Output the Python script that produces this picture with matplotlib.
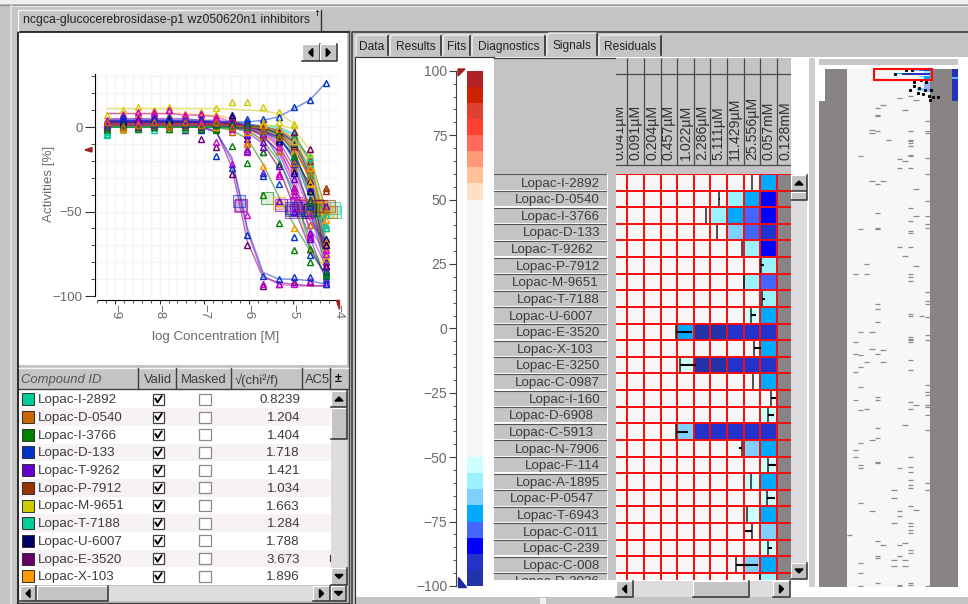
import matplotlib
matplotlib.use('Agg')
import matplotlib.pyplot as plt
import numpy as np
from matplotlib.colors import ListedColormap, BoundaryNorm, to_rgba
from matplotlib.patches import Rectangle, Polygon

plt.rcParams['font.family'] = ['Liberation Sans', 'DejaVu Sans']

W, H = 968, 604
GRAY = '#c5c3c5'
TXT = '#3c3c3c'

# dose response panel
log_conc = [-9.18, -8.83, -8.48, -8.13, -7.78, -7.43, -7.08, -6.73, -6.38, -6.03, -5.68, -5.33, -4.98, -4.63, -4.28]
curve_colors = ['#00cc99', '#cc6600', '#008000', '#0033cc', '#6600cc', '#993300', '#cccc00', '#00cc99',
                '#000066', '#660066', '#ff9900', '#cc00cc', '#0033cc', '#008000', '#0033cc', '#ff9900',
                '#cc00cc', '#6600cc', '#993300', '#cccc00', '#008000', '#0033cc', '#cc00cc', '#6600cc',
                '#cc6600', '#00cc99', '#000066', '#660066', '#ff9900', '#0033cc', '#cc00cc', '#6600cc',
                '#008000', '#cc6600']
fits = [
    [2, 2, 2, 2, 2, 2, 2, 2, 2, 1, 1, 0, -4, -20, -55],
    [1, 1, 1, 1, 1, 1, 1, 1, 1, 0, -1, -3, -10, -28, -62],
    [0, 0, 0, 0, 0, 0, 0, 0, -1, -1, -3, -7, -16, -36, -70],
    [3, 3, 3, 3, 3, 3, 3, 2, 1, 0, -2, -6, -18, -42, -75],
    [4, 4, 4, 4, 4, 4, 3, 3, 2, 1, -1, -4, -14, -38, -72],
    [2, 2, 2, 2, 2, 2, 2, 2, 2, 1, 0, -2, -7, -18, -48],
    [11, 11, 11, 11, 11, 11, 11, 11, 10.5, 10, 9.5, 8, 2, -35, -88],
    [1, 1, 1, 1, 1, 1, 1, 1, 1, 1, 0, -1, -5, -20, -60],
    [3, 3, 3, 3, 3, 3, 3, 2, 2, 1, -1, -3, -12, -30, -68],
    [2, 2, 2, 2, 2, 1, 0, -2, -24, -68, -89, -92, -93, -94, -94],
    [2, 2, 2, 2, 2, 2, 2, 2, 1, 1, -1, -4, -12, -32, -64],
    [1, 1, 1, 1, 1, 0, 0, -3, -20, -62, -88, -93, -94, -94, -94],
    [3, 3, 3, 3, 3, 3, 3, 3, 3, 3, 4, 6, 11, 16, 26],
    [1, 1, 1, 1, 1, 1, 1, 0, -2, -7, -22, -41, -58, -73, -87],
    [1, 1, 1, 1, 1, 1, 0, -3, -18, -60, -86, -90, -90, -91, -93],
    [8, 8, 8, 8, 8, 8, 7, 7, 5, 0, -9, -24, -46, -70, -84],
    [8, 8, 8, 8, 8, 7, 7, 6, 3, 0, -6, -14, -30, -62, -82],
    [4, 4, 4, 4, 4, 3, 3, 2, 0, -3, -10, -24, -48, -72, -88],
    [2, 2, 2, 2, 2, 2, 2, 2, 1, 0, -1, -3, -9, -24, -56],
    [1, 1, 1, 1, 1, 1, 1, 1, 1, 1, 1, 1, -1, -14, -52],
    [0, 0, 0, 0, 0, 0, 0, 0, 0, -2, -8, -20, -38, -70, -88],
    [3, 3, 3, 3, 3, 3, 3, 2, 1, -1, -4, -18, -42, -65, -90],
    [2, 2, 2, 2, 2, 2, 2, 2, 1, 0, -2, -10, -28, -50, -76],
    [5, 5, 5, 5, 5, 5, 4, 4, 3, 1, -2, -8, -24, -48, -74],
    [1, 1, 1, 1, 1, 1, 1, 1, 0, -1, -4, -12, -26, -46, -70],
    [0, 0, 0, 0, 0, 0, 0, 0, 0, 0, -1, -3, -8, -26, -66],
    [2, 2, 2, 2, 2, 2, 2, 1, 1, 0, -2, -6, -18, -34, -60],
    [3, 3, 3, 3, 3, 3, 3, 3, 2, 1, 0, -2, -9, -28, -78],
    [1, 1, 1, 1, 1, 1, 1, 1, 1, 0, 0, -2, -6, -22, -58],
    [4, 4, 4, 4, 4, 4, 4, 3, 3, 2, 0, -5, -20, -50, -82],
    [2, 2, 2, 2, 2, 2, 2, 2, 1, 0, -3, -11, -34, -60, -74],
    [1, 1, 1, 1, 1, 1, 1, 1, 0, -1, -5, -15, -36, -55, -68],
    [0, 0, 0, 0, 0, 0, 0, 0, 0, 0, -1, -4, -15, -40, -80],
    [2, 2, 2, 2, 2, 2, 2, 2, 1, 0, -1, -5, -13, -30, -54],
]
points = [
    [-3, -1, 1, -2, 1, 2, 0, 1, 2, 3, 0, -1, -5, -22, -52],
    [0, -1, 2, 1, 1, 0, 1, 2, 0, -1, -2, -4, -12, -26, -60],
    [-2, 1, 0, 2, -1, 1, 0, -2, 1, -2, -5, -9, -18, -38, -86],
    [1, 5, 3, 6, 5, 2, 3, 1, 0, 1, -3, -7, -20, -44, -78],
    [2, 3, 5, 4, 3, 5, 1, 4, 2, 0, -2, -6, -12, -36, -70],
    [0, 3, 2, 1, 2, 0, 3, 1, 4, 2, -1, -1, -6, -20, -36],
    [7, 10, 12, 10, 12, 8, 9, 11, 15, 15, 12, 9, 2, -34, -77],
    [-5, -1, 0, 1, 0, -1, 1, 2, 0, 1, 1, -2, -7, -18, -58],
    [2, 5, 4, 5, 3, 2, 4, 0, 6, 2, 0, -4, -10, -32, -66],
    [1, 0, 3, 0, 2, -2, -7, -12, -28, -70, -94, -93, -92, -92, -93],
    [3, 0, 1, 4, 2, 1, 5, 2, 4, 0, 3, -5, -14, -33, -71],
    [-1, 8, 7, 9, 10, 6, 8, -9, -22, -52, -93, -93, -93, -91, -92],
    [2, 4, 3, 4, 2, 4, 3, 2, 4, 5, 5, 6, 12, 16, 26],
    [0, -1, 1, 3, 0, 2, 1, -1, -11, -21, -40, -57, -73, -80, -86],
    [0, 1, 2, 0, 1, 1, -2, -17, -24, -64, -88, -90, -89, -89, -93],
    [3, 8, 8, 7, 7, 8, 6, 7, 4, -9, -23, -45, -60, -73, -84],
    [1, 7, 9, 8, 10, 7, 8, 6, 5, -13, -15, -28, -40, -65, -83],
    [3, 4, 5, 3, 5, 3, 4, 2, 1, -5, -27, -44, -50, -66, -82],
    [1, 2, 1, 3, 2, 0, 3, 1, 2, 1, 0, -4, -11, -25, -38],
    [3, 0, 2, 1, 0, 2, 1, 3, 1, 0, 2, 3, 1, -16, -78],
    [1, -1, 0, 1, -1, 2, 0, -1, 1, -3, -15, -22, -36, -72, -88],
    [2, 4, 3, 5, 4, 2, 3, 3, 0, -14, -29, -34, -65, -76, -90],
    [4, 3, 1, 2, 3, 1, 2, 5, 2, -15, -4, -29, -38, -52, -73],
    [3, 6, 4, 6, 5, 3, 5, 2, 0, -5, -12, -9, -26, -63, -80],
    [-1, 2, 0, 1, 0, 2, 1, 0, -3, -2, -6, -14, -24, -58, -68],
    [-4, 1, -1, 0, 1, -1, 0, 2, 1, -1, -3, -2, -9, -28, -60],
    [1, 3, 2, 1, 4, 3, 0, 3, 7, -1, -4, -8, -27, -38, -70],
    [2, 1, 4, 3, 2, 2, 4, 2, 3, 0, -1, -3, -3, -13, -82],
    [0, -1, 2, 1, 2, 0, 2, 0, 1, -3, 1, -1, -8, -24, -55],
    [1, 6, 3, 5, 6, 4, 5, 2, 2, 3, -2, -6, -22, -47, -85],
    [2, 1, 3, 1, 2, 1, 3, 4, -1, -1, -4, -12, -36, -64, -75],
    [0, 2, 0, 2, 1, 2, 0, 1, 0, -7, -9, -23, -31, -43, -47],
    [-1, 1, -1, 0, 2, 0, -1, 1, 1, 0, -2, -5, -17, -44, -87],
    [3, 0, 1, 3, 1, 3, 1, 3, 0, -10, -2, -6, -21, -29, -49],
]
ac50_x = [-4.10, -4.50, -4.75, -4.85, -4.70, -4.20, -4.55, -4.07, -4.65, -6.17, -4.60, -6.20, np.nan, -5.60,
          -6.22, -5.32, -4.95, -5.28, -4.38, -4.25, -5.04, -5.06, -4.85, -4.95, -4.80, -4.40, -4.62, -4.45,
          -4.32, -4.90, -5.00, -5.05, -4.55, -4.15]
ac50_y = [-48, -46, -50, -47, -49, -47, -48, -50, -50, -46, -47, -47, np.nan, -42,
          -44, -45, -45, -46, -47, -50, -49, -48, -47, -49, -46, -50, -49, -47,
          -48, -48, -46, -50, -49, -50]

# compound table
compound_ids = ['Lopac-I-2892', 'Lopac-D-0540', 'Lopac-I-3766', 'Lopac-D-133', 'Lopac-T-9262', 'Lopac-P-7912',
                'Lopac-M-9651', 'Lopac-T-7188', 'Lopac-U-6007', 'Lopac-E-3520', 'Lopac-X-103']
chi_values = ['0.8239', '1.204', '1.404', '1.718', '1.421', '1.034', '1.663', '1.284', '1.788', '3.673', '1.896']
swatch_colors = ['#00cc99', '#cc6600', '#008000', '#0033cc', '#6600cc', '#993300', '#cccc00', '#00cc99',
                 '#000066', '#660066', '#ff9900']

# signals heat map
conc_labels = ['0.041µM', '0.091µM', '0.204µM', '0.457µM', '1.022µM', '2.286µM', '5.111µM', '11.429µM',
               '25.556µM', '0.057mM', '0.128mM']
row_labels = compound_ids + ['Lopac-C-0987', 'Lopac-I-160', 'Lopac-D-6908', 'Lopac-C-5913', 'Lopac-N-7906',
                             'Lopac-F-114', 'Lopac-A-1895', 'Lopac-P-0547', 'Lopac-T-6943', 'Lopac-C-011',
                             'Lopac-C-239', 'Lopac-C-008', 'Lopac-D-3036']
row_labels[11:11] = ['Lopac-E-3250']
row_label_right = [600, 600, 600, 600, 594, 600, 599, 600, 594, 600, 594, 600, 600, 600, 594, 594, 600, 600, 600,
                   594, 600, 599, 600, 600, 600]
n = np.nan
heat = [
    [0, 0, 0, 0, 0, 0, 0, 0, 0, -70, n],
    [0, 0, 0, 0, 0, 0, 0, -60, -72, -85, n],
    [0, 0, 0, 0, 0, 0, -60, -72, -78, -85, n],
    [0, 0, 0, 0, 0, 0, 0, -65, -78, -90, n],
    [0, 0, 0, 0, 0, 0, 0, 0, -60, -85, n],
    [0, 0, 0, 0, 0, 0, 0, 0, 0, -60, n],
    [0, 0, 0, 0, 0, 0, 0, 0, -60, -78, n],
    [0, 0, 0, 0, 0, 0, 0, 0, 0, -60, n],
    [0, 0, 0, 0, 0, 0, 0, 0, -53, -72, n],
    [0, 0, 0, 0, -72, -96, -96, -90, -90, -90, n],
    [0, 0, 0, 0, 0, 0, 0, 0, 0, -72, n],
    [0, 0, 0, 0, -53, -96, -96, -90, -90, -90, n],
    [0, 0, 0, 0, 0, 0, 0, 0, 0, -72, n],
    [0, 0, 0, 0, 0, 0, 0, 0, 0, 0, n],
    [0, 0, 0, 0, 0, 0, 0, 0, 0, -53, n],
    [0, 0, 0, 0, -65, -90, -90, -90, -90, -90, n],
    [0, 0, 0, 0, 0, 0, 0, 0, -65, -72, n],
    [0, 0, 0, 0, 0, 0, 0, 0, 0, -53, n],
    [0, 0, 0, 0, 0, 0, 0, 0, -53, -72, n],
    [0, 0, 0, 0, 0, 0, 0, 0, 0, -53, n],
    [0, 0, 0, 0, 0, 0, 0, 0, -53, -72, n],
    [0, 0, 0, 0, 0, 0, 0, 0, 0, -65, n],
    [0, 0, 0, 0, 0, 0, 0, 0, 0, -53, n],
    [0, 0, 0, 0, 0, 0, 0, 0, -65, -72, n],
    [0, 0, 0, 0, 0, 0, 0, 0, 0, -60, n],
]
ac50_col = [8.52, 6.53, 5.72, 6.41, 7.92, 9.04, 8.04, 9.12, 8.44, 3.91, 8.64, 4.17, 8.56, 9.65, 9.45, 3.91, 7.92,
            9.45, 8.44, 9.39, 8.22, 8.52, 9.45, 7.52, 8.98]
ac50_end = [8.52, 6.6, 5.72, 6.41, 7.92, 9.22, 8.04, 9.28, 8.74, 4.87, 9.03, 5.13, 8.56, 9.95, 9.83, 4.67, 7.74,
            9.95, 8.44, 9.89, 8.22, 8.08, 9.69, 8.88, 8.98]

# colour scale
scale_bounds = [-100, -93.75, -87.5, -81.25, -75, -68.75, -62.5, -56.25, -50,
                50, 56.25, 62.5, 68.75, 75, 81.25, 87.5, 93.75, 100]
scale_colors = ['#2233aa', '#2233cc', '#0000ff', '#4466ff', '#00aaff', '#80d0ff', '#99f2ff', '#ccffff',
                '#f7f7f7',
                '#ffe0c4', '#ffc09a', '#ff9a78', '#ff6a5a', '#ff4030', '#e04030', '#cc2200', '#b22222']
scale_ticks = [100, 75, 50, 25, 0, -25, -50, -75, -100]

# overview strip, gray dashes per plate column
overview_marks = {
    0: [280],
    1: [123, 164, 171, 182, 199, 229, 233],
    2: [52, 96, 158, 172, 179, 191, 205, 225, 238, 240, 261, 297, 303, 311],
    3: [117, 123, 176, 204],
    4: [36, 38, 67, 158, 168, 223, 266],
    5: [23, 27, 28, 37, 69, 86, 95, 96, 141, 144, 152, 171, 197, 199, 216, 222, 236, 237, 284, 293, 294, 309],
    6: [21, 67, 169, 176, 286],
    7: [42],
    8: [253, 258, 273, 295, 299],
    9: [17, 54, 59, 107, 240, 266, 269, 286, 293, 310, 311],
    10: [24, 55, 112, 214, 285, 295, 299],
    11: [16, 37, 42, 43, 44, 46, 51, 52, 59, 83, 91, 97, 98, 107, 123, 125, 127, 147, 148, 161, 162, 163, 164, 175,
         181, 200, 204, 233, 239, 242, 247, 250, 252, 263, 273, 275, 277, 279, 289, 291, 309, 310],
    12: [18, 72, 88, 118, 202, 265],
    13: [148],
    14: [31, 37, 38, 53, 63, 79, 88, 93, 95, 134, 139, 141, 149, 160, 163, 190, 194, 196, 202, 203, 208, 217, 249,
         253, 311],
}
overview_dot_col = [11.75, 10.7, 8.7, 12.1, 13.4, 14.3, 12.1, 11.4, 13, 14.1, 15.2, 12.8, 13.7, 14.8, 15, 15.6, 16.5]
overview_dot_row = [0.6, 0.6, 3, 7.8, 6.6, 7.8, 10.2, 12.7, 11.4, 12.7, 12.7, 14.5, 15, 16.3, 18.7, 16.9, 16.9]

fig = plt.figure(figsize=(W / 100, H / 100), dpi=100, facecolor=GRAY)


def place(x0, y0, x1, y1, z=2):
    return fig.add_axes([x0 / W, 1 - y1 / H, (x1 - x0) / W, (y1 - y0) / H], zorder=z)


bg = place(0, 0, W, H, 0)
bg.set_xlim(0, W)
bg.set_ylim(H, 0)
bg.axis('off')
top = place(0, 0, W, H, 10)
top.set_xlim(0, W)
top.set_ylim(H, 0)
top.axis('off')
top.patch.set_alpha(0)


def box(ax, x0, y0, x1, y1, color, **kw):
    ax.add_patch(Rectangle((x0, y0), x1 - x0, y1 - y0, facecolor=color, edgecolor='none', **kw))


def raised(ax, x0, y0, x1, y1, arrow=None):
    box(ax, x0, y0, x1, y1, GRAY)
    ax.plot([x0, x0, x1], [y1, y0, y0], color='white', lw=0.8)
    ax.plot([x0, x1, x1], [y1, y1, y0], color='#303030', lw=1.1)
    cx, cy = (x0 + x1) / 2, (y0 + y1) / 2
    if arrow == 'l':
        ax.add_patch(Polygon([(cx + 2, cy - 4), (cx + 2, cy + 4), (cx - 2, cy)], color='black'))
    if arrow == 'r':
        ax.add_patch(Polygon([(cx - 2, cy - 4), (cx - 2, cy + 4), (cx + 2, cy)], color='black'))
    if arrow == 'u':
        ax.add_patch(Polygon([(cx - 4, cy + 2), (cx + 4, cy + 2), (cx, cy - 2)], color='black'))
    if arrow == 'd':
        ax.add_patch(Polygon([(cx - 4, cy - 2), (cx + 4, cy - 2), (cx, cy + 2)], color='black'))


def tab(x0, x1, label, active=False):
    y0 = 33 if active else 35
    bg.plot([x0, x0, x0 + 2, x1 - 1], [55, y0 + 2, y0, y0], color='#f0f0f0', lw=1)
    bg.plot([x1, x1], [y0 + 1, 55], color='#202020', lw=1.1)
    if active:
        box(bg, x0, y0, x1, 57, '#c9c7c9')
    bg.text((x0 + x1) / 2, 45.5 if active else 47, label, ha='center', va='center', fontsize=8.6, color='#222222')


# window chrome
box(bg, 0, 0, W, 4, '#f0f0f0')
bg.plot([0, W], [4.5, 4.5], color='#909090', lw=1)
bg.plot([11, 11], [6, H], color='#e8e8e8', lw=1.2)
bg.plot([11, W], [6, 6], color='#e8e8e8', lw=0.8)
box(bg, 18, 32, 347, 365, 'white')
bg.plot([17.5, 17.5, 349], [H, 31.5, 31.5], color='#101010', lw=1.2)
bg.plot([348.5, 348.5], [31, H], color='#404040', lw=1)
bg.plot([17.5, 349], [603, 603], color='#404040', lw=1)
bg.plot([17.5, 17.5, 321], [31, 10, 10], color='#f4f4f4', lw=1)
bg.plot([321, 321], [10, 31], color='#303030', lw=1)
bg.text(23, 20.5, 'ncgca-glucocerebrosidase-p1 wz050620n1 inhibitors', ha='left', va='center', fontsize=8.8,
        color='#222222')
bg.text(317, 13, '↑', ha='center', va='center', fontsize=6, color='black', family=['DejaVu Sans'])
raised(bg, 302, 44, 319.5, 61, 'l')
raised(bg, 319.5, 44, 337, 61, 'r')

box(bg, 355, 57, W, 597, 'white')
bg.plot([352, 352, W], [H, 31.5, 31.5], color='#404040', lw=1.2)
bg.plot([354.5, 354.5, 494], [H, 57, 57], color='#303030', lw=0.8)
tab_edges = [356, 390, 443, 472, 547, 599, 663]
tab_names = ['Data', 'Results', 'Fits', 'Diagnostics', 'Signals', 'Residuals']
for i in range(6):
    tab(tab_edges[i], tab_edges[i + 1] - 2, tab_names[i], tab_names[i] == 'Signals')
box(bg, 540, 598, 546, 604, '#f0f0f0')

# dose response curves
ax = place(95, 74, 338, 296, 3)
ax.patch.set_alpha(0)
ax.set_xlim(-9.448, -4.0)
ax.set_ylim(-100, 31.4)
ax.set_xticks([-9, -8, -7, -6, -5, -4])
ax.set_xticks(np.arange(-9.4, -4.0, 0.2), minor=True)
ax.set_yticks([-100, -50, 0])
ax.set_yticks(np.arange(-90, 31, 10), minor=True)
ax.grid(which='both', color='#f9f0f6', lw=1)
ax.set_axisbelow(True)
for s in ['top', 'right']:
    ax.spines[s].set_visible(False)
ax.spines['bottom'].set_position(('outward', 3))
ax.spines['bottom'].set_bounds(-9.38, -4.0)
ax.tick_params(axis='y', which='major', labelsize=9.6, labelcolor='#6a6a6a', color='#303030', pad=2, length=7)
ax.tick_params(axis='y', which='minor', length=3, color='#303030')
ax.tick_params(axis='x', which='major', labelsize=9.6, labelcolor='#6a6a6a', color='#303030', pad=0, length=3)
ax.tick_params(axis='x', which='minor', length=2, color='#303030')
for t in ax.get_xticklabels():
    t.set_rotation(-90)
    t.set_va('top')
bg.text(49, 184, 'Activities [%]', rotation=90, ha='center', va='center', fontsize=9.6, color='#6a6a6a')
bg.text(216, 337, 'log Concentration [M]', ha='center', va='center', fontsize=9.6, color='#6a6a6a')

for i in range(len(fits)):
    ax.plot(log_conc, fits[i], color=curve_colors[i], lw=1, alpha=0.55, zorder=3, clip_on=False)
for i in range(len(fits)):
    ax.plot(ac50_x[i], ac50_y[i], 's', ms=8.5, mfc=to_rgba(curve_colors[i], 0.12), mec=to_rgba(curve_colors[i], 0.6),
            mew=0.8, zorder=4, clip_on=False)
    ax.plot(log_conc, points[i], '^', ms=3.8, mfc='none', mec=curve_colors[i], mew=1, zorder=5, clip_on=False)
top.add_patch(Polygon([(85, 150), (92, 147.5), (92, 152)], color='#a02020'))
top.add_patch(Polygon([(336, 300), (339, 300), (339, 309)], color='#a02020'))

# compound table
box(bg, 19, 368, 348, 388, GRAY)
bg.plot([19, 348], [388.5, 388.5], color='#404040', lw=1)
bg.plot([19, 348], [367.5, 367.5], color='#f4f4f4', lw=1)
for xh in [138, 176, 231, 302, 330]:
    bg.plot([xh, xh], [368, 388], color='#404040', lw=1)
bg.text(21, 380, 'Compound ID', fontsize=9.4, style='italic', color='#555555', va='center')
bg.text(157.5, 380, 'Valid', fontsize=9.4, color=TXT, va='center', ha='center')
bg.text(204, 380, 'Masked', fontsize=9.4, color=TXT, va='center', ha='center')
bg.text(235, 380, '√(chi²/f)', fontsize=9.4, color=TXT, va='center')
bg.text(305, 380, 'AC5', fontsize=9.4, color=TXT, va='center')
bg.text(338, 379, '±', fontsize=9, color='black', va='center', ha='center', weight='bold')
box(bg, 19, 389, 331, 585, 'white')
for i in range(11):
    yc = 399.3 + 17.7 * i
    if i % 2 == 1:
        box(bg, 19, yc - 8.8, 331, yc + 8.8, '#f6f2f6')
    bg.add_patch(Rectangle((21.5, yc - 6), 12, 12, facecolor=swatch_colors[i], edgecolor='#303030', lw=0.7))
    bg.text(38, yc + 1, compound_ids[i], fontsize=9.6, color=TXT, va='center')
    bg.add_patch(Rectangle((153, yc - 5.5), 10.5, 11, facecolor='white', edgecolor='#404040', lw=0.9))
    bg.plot([155.5, 157.5, 161.5], [yc - 0.5, yc + 3, yc - 3], color='black', lw=1.4)
    bg.add_patch(Rectangle((199, yc - 5.5), 12, 11, facecolor='white', edgecolor='#8a8a8a', lw=0.9))
    bg.text(300, yc + 1, chi_values[i], fontsize=9.6, color=TXT, va='center', ha='right')
bg.plot([329.5, 329.5], [555, 561], color='#303030', lw=0.8)
box(bg, 331, 389, 347, 585, '#dedcde')
raised(bg, 331, 391, 347, 407, 'u')
raised(bg, 331, 408, 347, 439)
raised(bg, 331, 568, 347, 585, 'd')
box(bg, 19, 586, 347, 601, '#dedcde')
raised(bg, 20, 586, 36, 601, 'l')
raised(bg, 37, 586, 108, 601)
raised(bg, 313, 586, 330, 601, 'r')
raised(bg, 331, 586, 346, 601, 'd')

# colour scale with ruler
scale = place(466.7, 69, 483, 587, 3)
cmap = ListedColormap(scale_colors)
norm = BoundaryNorm(scale_bounds, cmap.N)
mids = np.array([(scale_bounds[i] + scale_bounds[i + 1]) / 2 for i in range(len(scale_colors))])
scale.pcolormesh([0, 1], scale_bounds, mids.reshape(-1, 1), cmap=cmap, norm=norm)
scale.set_xlim(0, 1)
scale.set_ylim(-100.4, 100.7)
scale.set_xticks([])
for s in ['top', 'right', 'bottom']:
    scale.spines[s].set_visible(False)
scale.spines['left'].set_position(('outward', 8))
scale.spines['left'].set_color('#404040')
scale.spines['left'].set_bounds(-100, 100)
scale.set_yticks(scale_ticks)
scale.set_yticks(np.arange(-95, 100, 5), minor=True)
scale.tick_params(axis='y', which='major', length=5, labelsize=10, labelcolor='#6a6a6a', color='#404040', pad=1)
scale.tick_params(axis='y', which='minor', length=2.5, color='#404040')
top.add_patch(Polygon([(458, 69), (465, 69), (458, 76)], color='#a02020'))
top.add_patch(Polygon([(458, 577), (458, 587), (466, 587)], color='#1a2a99'))

# gray block above row labels
box(bg, 494, 58, 616, 174, GRAY)
bg.plot([494, 616], [58, 58], color='#404040', lw=0.9)
box(bg, 608, 174, 616, 580, GRAY)

# column headers
head = place(616, 58, 790.7, 174, 3)
head.set_xlim(0.319, 10.83)
head.set_ylim(116, 0)
head.set_facecolor(GRAY)
head.axis('off')
box(head, 0, 0, 11, 116, GRAY)
head.hlines([16, 107], 0, 11, color='#4a4a4a', lw=0.9, zorder=3)
head.vlines(np.arange(1, 11), 0, 107, color='#4a4a4a', lw=0.9, zorder=3)
for k, lab in enumerate(conc_labels):
    head.text(k + 0.5, 102, lab, rotation=90, ha='center', va='bottom', fontsize=10.2, color='#303030', clip_on=True)

# row labels
rows = place(494, 174, 607, 580, 3)
rows.set_xlim(494, 607)
rows.set_ylim(24.43, 0)
rows.axis('off')
for i, lab in enumerate(row_labels):
    box(rows, 494, i + 0.06, 607, i + 0.95, GRAY)
    rows.plot([494, 607], [i + 0.03, i + 0.03], color='#555555', lw=0.8)
    rows.text(row_label_right[i], i + 0.58, lab, ha='right', va='center', fontsize=9.6, color=TXT, clip_on=True)

# signals heat map
hm = place(616, 174, 790.7, 580, 3)
hm.set_facecolor('#888486')
heat_arr = np.ma.masked_invalid(np.array(heat, dtype=float))
hm.pcolormesh(np.arange(12), np.arange(len(heat) + 1), heat_arr, cmap=cmap, norm=norm)
hm.set_xlim(0.319, 10.83)
hm.set_ylim(24.43, 0)
hm.set_xticks([])
hm.set_yticks([])
for s in hm.spines.values():
    s.set_visible(False)
hm.hlines(np.arange(0, 26), 0, 11, color='#ff0808', lw=1.4)
hm.vlines(np.arange(1, 11), 0, 25, color='#ff0808', lw=1.4)
for i in range(len(heat)):
    hm.vlines(ac50_col[i], i + 0.06, i + 0.94, color='#202020', lw=1.1, zorder=4)
    hm.hlines(i + 0.5, ac50_col[i], ac50_end[i], color='black', lw=1.5, zorder=4)

# heat map scroll bars
box(bg, 791, 175, 807, 579, '#dedcde')
raised(bg, 791, 175, 807, 191, 'u')
raised(bg, 791, 192, 807, 200)
raised(bg, 791, 563, 807, 579, 'd')
box(bg, 616, 581, 790, 597, '#dedcde')
raised(bg, 616, 581, 633, 597, 'l')
raised(bg, 693, 581, 749, 597)
raised(bg, 773, 581, 790, 597, 'r')

# overview
box(bg, 809, 58, 815, 587, '#d0ced0')
box(bg, 819, 59, 958, 65, '#c8c6c8')
ov = place(819, 69, 958, 587, 3)
ov.set_xlim(-5.06, 20.07)
ov.set_ylim(312, 0)
ov.set_facecolor('white')
ov.set_xticks([])
ov.set_yticks([])
for s in ov.spines.values():
    s.set_visible(False)
ov.axvspan(-5.06, 0, color='#888486', lw=0)
ov.axvspan(15, 20.07, color='#888486', lw=0)
ov.axvspan(0, 15, color='#f7f7f7', lw=0)
box(ov, -5.06, 0, -4, 19, 'white')
box(ov, 19, 0, 20.07, 19, '#2233bb')
box(ov, 19, 5, 20.07, 6.3, '#55bbff')
for c, marks in overview_marks.items():
    ov.hlines(np.array(marks) + 0.5, c + 0.02, c + 0.98, color='#8c8c8c', lw=0.9)
# top of the overview repeats the visible rows
mini = np.array(heat, dtype=float)[:, :10]
ov.pcolormesh(np.arange(5, 16), np.linspace(0, 7, len(heat) + 1), np.ma.masked_equal(mini, 0), cmap=cmap, norm=norm)
box(ov, 14, 8, 15, 14, '#4466ff', alpha=0.5)
box(ov, 12.6, 11.5, 14.2, 13, '#80d0ff')
ov.plot(overview_dot_col, overview_dot_row, 's', ms=1.2, color='black', clip_on=False)
top.add_patch(Rectangle((874, 68.5), 58, 11.5, facecolor='none', edgecolor='#ff0808', lw=1.5))

fig.savefig('out.png', dpi=100, facecolor=fig.get_facecolor())
